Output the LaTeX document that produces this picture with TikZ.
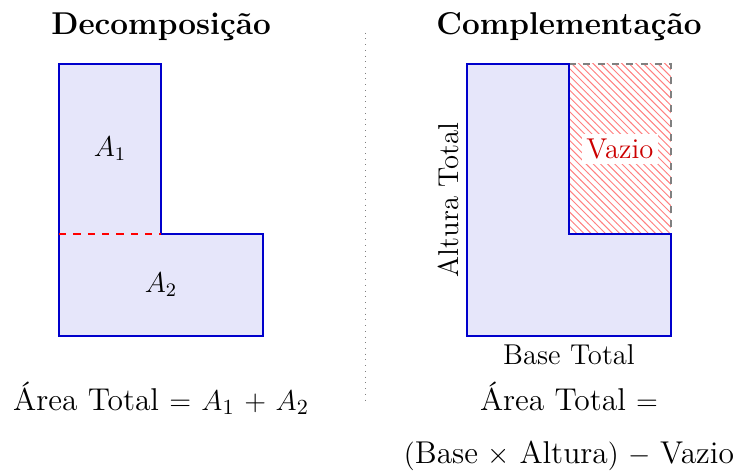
\documentclass[tikz,border=0pt]{standalone}
\usepackage{amsmath}
\usetikzlibrary{patterns,positioning}
\definecolor{shapeblue}{HTML}{0000CC}
\definecolor{shapefill}{HTML}{E6E6FA}
\definecolor{voidred}{HTML}{CC0000}
\newcommand{\titlesize}{\fontsize{13.2pt}{16pt}\selectfont}
\newcommand{\formsize}{\fontsize{13.2pt}{16pt}\selectfont\medmuskip=6mu\thickmuskip=6.5mu}

\begin{document}
\begin{tikzpicture}[
    font=\large,
    region/.style={draw=shapeblue, line width=1pt, fill=shapefill},
    cutline/.style={draw=red, thick, dashed},
    title/.style={font=\titlesize\bfseries, anchor=base},
    formula/.style={font=\formsize, anchor=base}
]
\useasboundingbox (-0.87,-2.03) rectangle (10.06,4.94);

% decomposicao
\draw[region] (0,0) -- (3,0) -- (3,1.5) -- (1.5,1.5) -- (1.5,4) -- (0,4) -- cycle;
\coordinate (cutL) at (0,1.5);
\coordinate (cutR) at (1.5,1.5);
\draw[cutline] (cutL) -- (cutR);
\node (a1) at (0.75,2.75) {$A_1$};
\node (a2) at (1.5,0.75) {$A_2$};
\node[title] (t1) at (1.5,4.43) {Decomposição};
\node[formula] (f1) at (1.5,-1.1) {Área Total $= A_1 + A_2$};

% separador
\coordinate (sepTop) at (4.5,4.46);
\coordinate (sepBot) at (4.5,-1.02);
\draw[gray, dotted] (sepTop) -- (sepBot);

% complementacao
\fill[pattern=north west lines, pattern color=red!50] (7.5,1.5) rectangle (9,4);
\draw[gray, thick, dashed] (7.5,4) -- (9,4) -- (9,1.5);
\draw[region] (6,0) -- (9,0) -- (9,1.5) -- (7.5,1.5) -- (7.5,4) -- (6,4) -- cycle;
\node[fill=white, text=voidred, inner sep=2pt] (vazio) at (8.25,2.75) {Vazio};
\node[rotate=90, anchor=south] (alt) at (6,2) {Altura Total};
\node[anchor=north] (base) at (7.5,0) {Base Total};
\node[title] (t2) at (7.5,4.43) {Complementação};
\node[formula] (f2) at (7.5,-1.1) {Área Total $=$};
\node[formula] (f3) at (7.5,-1.88) {$(\text{Base} \times \text{Altura}) - \text{Vazio}$};
\end{tikzpicture}
\end{document}
